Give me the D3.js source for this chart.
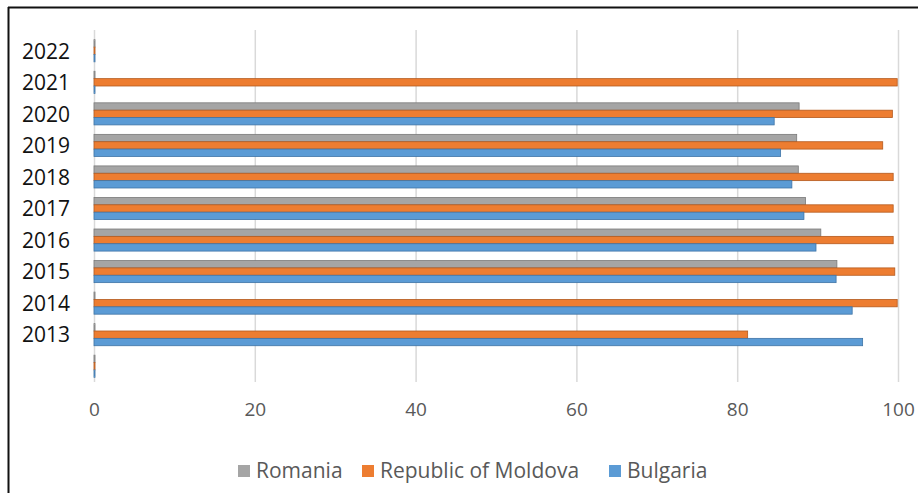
<!DOCTYPE html>
<html>
<head>
<meta charset="utf-8">
<script src="https://cdn.jsdelivr.net/npm/d3@7"></script>
<style>
  body { margin: 0; background: #fff; }
  svg { display: block; font-family: "Open Sans", "Liberation Sans", sans-serif; }
</style>
</head>
<body>
<div id="chart"></div>
<script>
// categories, bottom to top (first one has no label)
const years = ["", "2013", "2014", "2015", "2016", "2017", "2018", "2019", "2020", "2021", "2022"];
const seriesNames = ["Romania", "Republic of Moldova", "Bulgaria"];
const romania = [0, 0, 0, 92.4, 90.4, 88.5, 87.6, 87.4, 87.7, 0, 0];
const moldova = [0, 81.3, 99.9, 99.6, 99.4, 99.4, 99.4, 98.1, 99.3, 99.9, 0];
const bulgaria = [0, 95.6, 94.3, 92.3, 89.8, 88.3, 86.8, 85.4, 84.6, 0, 0];
const xTicks = [0, 20, 40, 60, 80, 100];

const colors = ["#a5a5a5", "#ed7d31", "#5b9bd5"];
const edges = ["#7a7a7a", "#b45a1e", "#3f74a6"];

const width = 918, height = 493;

const svg = d3.select("#chart")
  .append("svg")
  .attr("width", width)
  .attr("height", height);

// frame (left and top only)
svg.append("line").attr("x1", 8.5).attr("x2", 8.5).attr("y1", 7).attr("y2", height)
  .attr("stroke", "#111").attr("stroke-width", 2);
svg.append("line").attr("x1", 8).attr("x2", width).attr("y1", 7.5).attr("y2", 7.5)
  .attr("stroke", "#111").attr("stroke-width", 2);

const x = d3.scaleLinear().domain([0, 100]).range([94, 898]);
const y = d3.scaleBand()
  .domain(years.slice().reverse())
  .range([35, 382])
  .paddingInner(0.3)
  .paddingOuter(0.15);
const ySub = d3.scaleBand().domain(seriesNames).range([0, y.bandwidth()]);

// gridlines
svg.append("g")
  .selectAll("line")
  .data(xTicks)
  .join("line")
    .attr("x1", d => x(d) + 0.5)
    .attr("x2", d => x(d) + 0.5)
    .attr("y1", 30)
    .attr("y2", 382)
    .attr("stroke", "#d9d9d9")
    .attr("stroke-width", 1.5);

// x axis labels
const xAxis = svg.append("g")
  .attr("transform", `translate(0, 386)`)
  .call(d3.axisBottom(x).tickValues(xTicks).tickSize(0).tickPadding(17));
xAxis.select(".domain").remove();
xAxis.selectAll("text")
  .attr("font-size", 19)
  .attr("fill", "#595959")
  .attr("font-family", "'Open Sans', sans-serif");

// y axis labels
const yAxis = svg.append("g")
  .attr("transform", `translate(70, 1)`)
  .call(d3.axisLeft(y).tickSize(0).tickPadding(0));
yAxis.select(".domain").remove();
yAxis.selectAll("text")
  .attr("font-size", 21)
  .attr("fill", "#111")
  .attr("font-family", "'Open Sans', sans-serif");

// bars
const rows = years.map((yr, i) => ({
  year: yr,
  vals: [romania[i], moldova[i], bulgaria[i]]
}));

const groups = svg.append("g")
  .selectAll("g")
  .data(rows)
  .join("g")
    .attr("transform", d => `translate(0, ${y(d.year)})`);

groups.selectAll("rect")
  .data(d => d.vals.map((v, k) => ({ v, k })))
  .join("rect")
    .attr("x", x(0))
    .attr("y", d => ySub(seriesNames[d.k]))
    .attr("width", d => Math.max(1, x(d.v) - x(0)))
    .attr("height", ySub.bandwidth())
    .attr("fill", d => colors[d.k])
    .attr("stroke", d => edges[d.k])
    .attr("stroke-width", 0.8);

// legend
const legendX = [238, 362, 609];
const legend = svg.append("g")
  .selectAll("g")
  .data(seriesNames)
  .join("g")
    .attr("transform", (d, i) => `translate(${legendX[i]}, 471)`);
legend.append("rect")
  .attr("x", 0).attr("y", -6).attr("width", 12).attr("height", 12)
  .attr("fill", (d, i) => colors[i]);
legend.append("text")
  .attr("x", 18).attr("y", 0)
  .attr("dy", "0.35em")
  .attr("font-size", 21)
  .attr("fill", "#595959")
  .text(d => d);
</script>
</body>
</html>
